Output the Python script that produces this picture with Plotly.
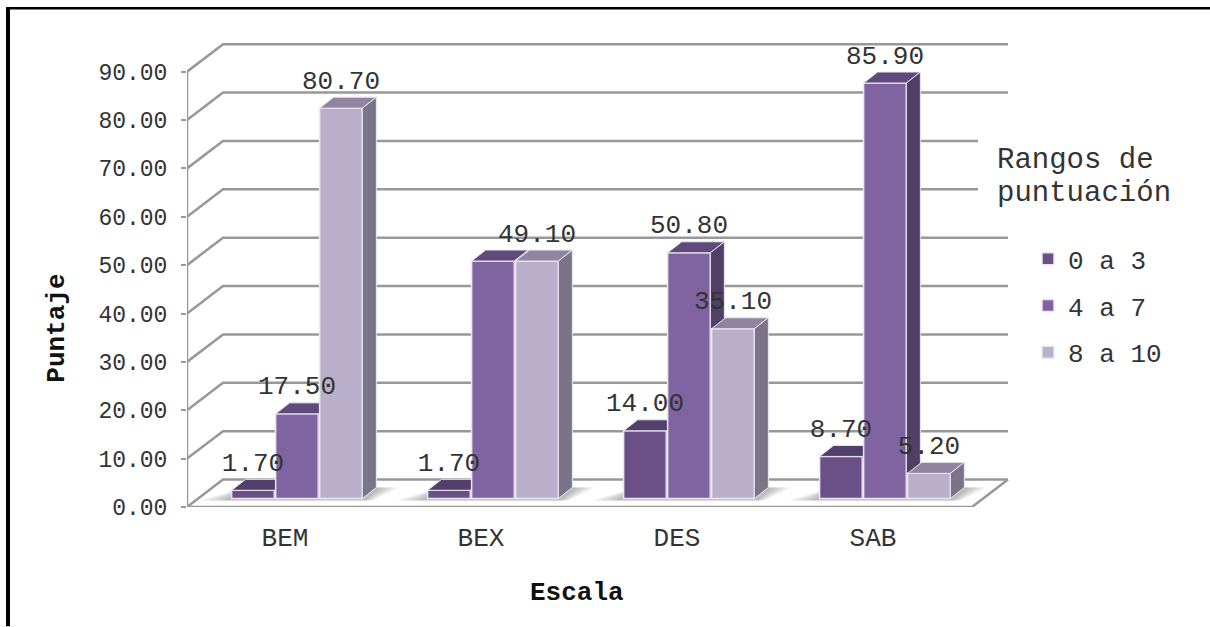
import plotly.graph_objects as go

# ---- data
categories = ["BEM", "BEX", "DES", "SAB"]
series_names = ["0 a 3", "4 a 7", "8 a 10"]
values_low = [1.70, 1.70, 14.00, 8.70]
values_mid = [17.50, 49.10, 50.80, 85.90]
values_high = [80.70, 49.10, 35.10, 5.20]
show_label_low = [True, True, True, True]
show_label_mid = [True, False, True, True]
show_label_high = [True, True, True, True]
y_ticks = [0, 10, 20, 30, 40, 50, 60, 70, 80, 90]

# ---- geometry
W, H = 1210, 627
L, R, T, B = 187, 1040, 30, 507.5
PX_X, PX_Y = 196.0, 4.842
xmax = (R - L) / PX_X
ymax = (B - T) / PX_Y
ux = lambda px: px / PX_X
uy = lambda px: px / PX_Y
px_paper = lambda px: (px - L) / (R - L)
py_paper = lambda py: (B - py) / (B - T)

BASE_X, BASE_Y = ux(12), uy(8.5)
DEPTH_X, DEPTH_Y = ux(14), uy(11)
BAR_W, BAR_STEP = 0.218, 0.2245
WALL_X, WALL_Y = ux(36), uy(27.5)
FLOOR_W = ux(785)

GRID = "#989898"
EDGE = "#ebe7f1"
MONO = "Liberation Mono, Courier New, monospace"
TEXT = "#333333"
TITLE_TEXT = "#111111"

styles = [
    dict(front="#6a5087", top="#523f6b", side="#4f3d66"),
    dict(front="#8063a1", top="#5f4a7c", side="#523f68"),
    dict(front="#b9afca", top="#8f85a0", side="#7b7489"),
]
all_values = [values_low, values_mid, values_high]
all_show = [show_label_low, show_label_mid, show_label_high]

fig = go.Figure()

# back wall + floor on the base axes
gx, gy = [], []
for v in y_ticks:
    gx += [0, WALL_X, WALL_X + FLOOR_W, None]
    gy += [v, v + WALL_Y, v + WALL_Y, None]
gx += [0, FLOOR_W, FLOOR_W + WALL_X, None, 0, 0]
gy += [0, 0, WALL_Y, None, 0, 90]
fig.add_trace(go.Scatter(x=gx, y=gy, mode="lines", line=dict(color=GRID, width=2.5),
                         showlegend=False, hoverinfo="skip"))

# soft floor shadows
for s in (30, 22, 15, 8):
    sx, sy = [], []
    for i in range(len(categories)):
        c = i + 0.5 + BASE_X
        x0 = c - 1.5 * BAR_STEP
        x1 = c + 1.5 * BAR_STEP
        sx += [x0 - ux(s), x1 + ux(s * 0.3), x1 + DEPTH_X + ux(s * 0.7), x0 + DEPTH_X, x0 - ux(s), None]
        sy += [BASE_Y - uy(2), BASE_Y - uy(2), BASE_Y + DEPTH_Y, BASE_Y + DEPTH_Y, BASE_Y - uy(2), None]
    fig.add_trace(go.Scatter(x=sx, y=sy, mode="lines", fill="toself", line=dict(width=0),
                             fillcolor="rgba(70,70,70,0.10)", showlegend=False, hoverinfo="skip"))

# one overlaid axis pair per series so that left bars sit below right ones
for k, (name, vals, st) in enumerate(zip(series_names, all_values, styles)):
    ax_x, ax_y = f"x{k + 2}", f"y{k + 2}"
    centers = [i + 0.5 + BASE_X + (k - 1) * BAR_STEP for i in range(len(categories))]
    fig.add_trace(go.Bar(x=centers, y=vals, base=[BASE_Y] * len(vals), width=BAR_W, name=name,
                         legendgroup=name, marker=dict(color=st["front"], line=dict(color=EDGE, width=1.5)),
                         xaxis=ax_x, yaxis=ax_y))
    tx, ty, sx, sy = [], [], [], []
    for c, v in zip(centers, vals):
        l, r = c - BAR_W / 2, c + BAR_W / 2
        t = BASE_Y + v
        tx += [l, r, r + DEPTH_X, l + DEPTH_X, l, None]
        ty += [t, t, t + DEPTH_Y, t + DEPTH_Y, t, None]
        sx += [r, r + DEPTH_X, r + DEPTH_X, r, r, None]
        sy += [BASE_Y, BASE_Y + DEPTH_Y, t + DEPTH_Y, t, BASE_Y, None]
    fig.add_trace(go.Scatter(x=tx, y=ty, mode="lines", fill="toself", fillcolor=st["top"],
                             line=dict(color=EDGE, width=1), showlegend=False, hoverinfo="skip",
                             xaxis=ax_x, yaxis=ax_y))
    fig.add_trace(go.Scatter(x=sx, y=sy, mode="lines", fill="toself", fillcolor=st["side"],
                             line=dict(color=EDGE, width=1), showlegend=False, hoverinfo="skip",
                             xaxis=ax_x, yaxis=ax_y))

# value labels on top of everything
lx, ly, lt = [], [], []
for k, (vals, shows) in enumerate(zip(all_values, all_show)):
    for i, (v, sh) in enumerate(zip(vals, shows)):
        if sh:
            lx.append(i + 0.5 + BASE_X + (k - 1) * BAR_STEP)
            ly.append(BASE_Y + v + uy(26))
            lt.append(f"{v:.2f}")
fig.add_trace(go.Scatter(x=lx, y=ly, text=lt, mode="text", textposition="middle center",
                         textfont=dict(family=MONO, size=26, color=TEXT), showlegend=False,
                         hoverinfo="skip", xaxis="x4", yaxis="y4"))

hidden_x = dict(overlaying="x", range=[0, xmax], visible=False, fixedrange=True)
hidden_y = dict(overlaying="y", range=[0, ymax], visible=False, fixedrange=True)

fig.update_layout(
    width=W, height=H, margin=dict(l=L, r=W - R, t=T, b=H - B),
    paper_bgcolor="white", plot_bgcolor="white", barmode="overlay", showlegend=True,
    font=dict(family=MONO, color=TEXT),
    xaxis=dict(range=[0, xmax], tickmode="array", tickvals=[i + 0.5 for i in range(len(categories))],
               ticktext=categories, showgrid=False, zeroline=False, showline=False, ticks="",
               ticklabelstandoff=12, tickfont=dict(family=MONO, size=26, color=TEXT), fixedrange=True),
    yaxis=dict(range=[0, ymax], tickmode="array", tickvals=y_ticks, tickformat=".2f",
               showgrid=False, zeroline=False, showline=False, ticks="outside", ticklen=5, tickwidth=2,
               tickcolor=GRID, ticklabelstandoff=9, tickfont=dict(family=MONO, size=23, color=TEXT),
               fixedrange=True),
    xaxis2=hidden_x, yaxis2=hidden_y, xaxis3=hidden_x, yaxis3=hidden_y,
    xaxis4=hidden_x, yaxis4=hidden_y,
    legend=dict(x=px_paper(995), xanchor="left", y=py_paper(134), yanchor="top",
                bgcolor="rgba(0,0,0,0)", traceorder="grouped", tracegroupgap=10,
                indentation=33,
                font=dict(family=MONO, size=26, color=TEXT),
                title=dict(text='<span style="font-size:29px">Rangos de</span><br>'
                                '<span style="font-size:29px">puntuación</span><br> ', side="top",
                           font=dict(family=MONO, size=26, color=TEXT))),
    annotations=[
        dict(text="<b>Escala</b>", x=px_paper(577), y=py_paper(594), xref="paper", yref="paper",
             xanchor="center", yanchor="middle",
             showarrow=False, font=dict(family=MONO, size=26, color=TITLE_TEXT)),
        dict(text="<b>Puntaje</b>", x=px_paper(57), y=py_paper(329), xref="paper", yref="paper",
             xanchor="center", yanchor="middle",
             textangle=-90, showarrow=False, font=dict(family=MONO, size=26, color=TITLE_TEXT)),
    ],
    shapes=[
        dict(type="rect", xref="paper", yref="paper", x0=px_paper(978), x1=px_paper(1015),
             y0=py_paper(125), y1=py_paper(205), fillcolor="white", line=dict(width=0), layer="above"),
        dict(type="rect", xref="paper", yref="paper", x0=px_paper(6), x1=px_paper(10),
             y0=py_paper(7), y1=py_paper(H), fillcolor="black", line=dict(width=0), layer="above"),
        dict(type="rect", xref="paper", yref="paper", x0=px_paper(6), x1=px_paper(W),
             y0=py_paper(7), y1=py_paper(9.5), fillcolor="black", line=dict(width=0), layer="above"),
    ],
)

fig.write_html("out.html", config={"displayModeBar": False},
               post_script="document.body.style.margin='0';document.body.style.overflow='hidden';")
